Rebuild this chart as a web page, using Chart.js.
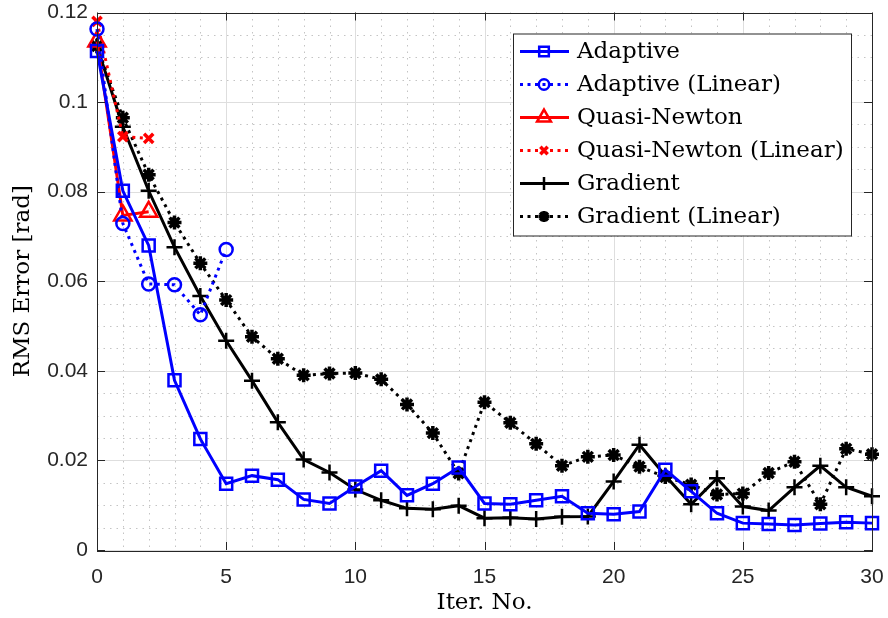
<!DOCTYPE html>
<html>
<head>
<meta charset="utf-8">
<script src="https://cdn.jsdelivr.net/npm/chart.js@4"></script>
<style>
  html, body { margin: 0; padding: 0; background: #fff; }
  #wrap { width: 888px; height: 618px; }
</style>
</head>
<body>
<div id="wrap"><canvas id="chart" width="888" height="618"></canvas></div>
<script>
// iteration numbers
const iters = [0, 1, 2, 3, 4, 5, 6, 7, 8, 9, 10, 11, 12, 13, 14, 15, 16, 17, 18, 19, 20,
               21, 22, 23, 24, 25, 26, 27, 28, 29, 30];

const adaptive = [0.1114, 0.0802, 0.0680, 0.0379, 0.0248, 0.0148, 0.0166, 0.0157, 0.0113, 0.0104,
                  0.0142, 0.0177, 0.0122, 0.0148, 0.0184, 0.0104, 0.0102, 0.0111, 0.0120, 0.0082,
                  0.0080, 0.0086, 0.0179, 0.0131, 0.0082, 0.0060, 0.0058, 0.0056, 0.0059, 0.0062, 0.0060];
const adaptiveLin = [0.1163, 0.0729, 0.0594, 0.0592, 0.0525, 0.0671];
const quasiNewton = [0.1135, 0.0747, 0.0755];
const quasiNewtonLin = [0.1180, 0.0923, 0.0919];
const gradient = [0.1125, 0.0945, 0.0802, 0.0676, 0.0567, 0.0467, 0.0378, 0.0285, 0.0202, 0.0173,
                  0.0135, 0.0111, 0.0093, 0.0091, 0.0099, 0.0071, 0.0072, 0.0069, 0.0074, 0.0075,
                  0.0153, 0.0235, 0.0166, 0.0102, 0.0160, 0.0097, 0.0088, 0.0140, 0.0188, 0.0140, 0.0120];
const gradientLin = [0.1125, 0.0965, 0.0838, 0.0731, 0.0640, 0.0558, 0.0476, 0.0427, 0.0390, 0.0394,
                     0.0395, 0.0381, 0.0325, 0.0261, 0.0171, 0.0330, 0.0284, 0.0237, 0.0188, 0.0208,
                     0.0212, 0.0186, 0.0163, 0.0146, 0.0124, 0.0126, 0.0172, 0.0197, 0.0102, 0.0226, 0.0214];

const xTicks = [0, 5, 10, 15, 20, 25, 30];
const yTicks = [0, 0.02, 0.04, 0.06, 0.08, 0.1, 0.12];

const SERIF = '"DejaVu Serif", serif';
const SANS = '"Liberation Sans", Arial, sans-serif';
const AXIS = '#262626';

function pts(vals) {
    return vals.map((v, i) => ({ x: iters[i], y: v }));
}

function series(label, vals, color, style, radius, dashed, pw) {
    return {
        label: label,
        data: pts(vals),
        borderColor: color,
        backgroundColor: color,
        borderWidth: 3,
        borderDash: dashed ? [3, 4.5] : [],
        borderCapStyle: 'butt',
        pointStyle: style,
        pointRadius: radius,
        pointHoverRadius: radius,
        pointBorderWidth: pw,
        pointBorderColor: color,
        pointBackgroundColor: 'rgba(0,0,0,0)',
        tension: 0,
        fill: false,
        clip: false
    };
}

// grid, box and inward ticks, drawn from the scales
const matlabAxes = {
    id: 'matlabAxes',
    beforeDatasetsDraw(chart) {
        const ctx = chart.ctx, a = chart.chartArea;
        const xs = chart.scales.x, ys = chart.scales.y;
        ctx.save();
        ctx.lineWidth = 1;
        ctx.strokeStyle = '#c4c4c4';
        ctx.setLineDash([1.5, 5]);
        for (let i = xs.min; i <= xs.max; i += 1) {
            if (i % 5 === 0) continue;
            const px = Math.round(xs.getPixelForValue(i)) + 0.5;
            ctx.beginPath(); ctx.moveTo(px, a.top); ctx.lineTo(px, a.bottom); ctx.stroke();
        }
        for (let k = 1; k < 24; k++) {
            if (k % 4 === 0) continue;
            const py = Math.round(ys.getPixelForValue(k * 0.005)) + 0.5;
            ctx.beginPath(); ctx.moveTo(a.left, py); ctx.lineTo(a.right, py); ctx.stroke();
        }
        ctx.setLineDash([]);
        ctx.strokeStyle = '#dedede';
        xTicks.forEach(t => {
            const px = Math.round(xs.getPixelForValue(t)) + 0.5;
            ctx.beginPath(); ctx.moveTo(px, a.top); ctx.lineTo(px, a.bottom); ctx.stroke();
        });
        yTicks.forEach(t => {
            const py = Math.round(ys.getPixelForValue(t)) + 0.5;
            ctx.beginPath(); ctx.moveTo(a.left, py); ctx.lineTo(a.right, py); ctx.stroke();
        });
        ctx.restore();
    },
    afterDatasetsDraw(chart) {
        const ctx = chart.ctx, a = chart.chartArea;
        const xs = chart.scales.x, ys = chart.scales.y;
        ctx.save();
        ctx.strokeStyle = AXIS;
        ctx.lineWidth = 1;
        const L = 8;
        xTicks.forEach(t => {
            const px = Math.round(xs.getPixelForValue(t)) + 0.5;
            ctx.beginPath(); ctx.moveTo(px, a.bottom); ctx.lineTo(px, a.bottom - L); ctx.stroke();
            ctx.beginPath(); ctx.moveTo(px, a.top); ctx.lineTo(px, a.top + L); ctx.stroke();
        });
        yTicks.forEach(t => {
            const py = Math.round(ys.getPixelForValue(t)) + 0.5;
            ctx.beginPath(); ctx.moveTo(a.left, py); ctx.lineTo(a.left + L, py); ctx.stroke();
            ctx.beginPath(); ctx.moveTo(a.right, py); ctx.lineTo(a.right - L, py); ctx.stroke();
        });
        ctx.strokeRect(Math.round(a.left) + 0.5, Math.round(a.top) + 0.5,
                       Math.round(a.right - a.left), Math.round(a.bottom - a.top));
        ctx.restore();
    }
};

// MATLAB-like legend box inside the axes
const boxLegend = {
    id: 'boxLegend',
    afterDraw(chart) {
        const ctx = chart.ctx, a = chart.chartArea;
        const sets = chart.data.datasets;
        const left = a.right - 359, top = a.top + 21, w = 338, rowH = 33;
        const h = sets.length * rowH + 4;
        ctx.save();
        ctx.fillStyle = '#fff';
        ctx.fillRect(left, top, w, h);
        ctx.strokeStyle = AXIS;
        ctx.lineWidth = 1;
        ctx.strokeRect(left + 0.5, top + 0.5, w, h);
        ctx.font = '23px ' + SERIF;
        ctx.textBaseline = 'middle';
        sets.forEach((d, i) => {
            const cy = top + 18 + i * rowH;
            ctx.strokeStyle = d.borderColor;
            ctx.lineWidth = d.borderWidth;
            ctx.setLineDash(d.borderDash);
            ctx.beginPath(); ctx.moveTo(left + 7, cy); ctx.lineTo(left + 56, cy); ctx.stroke();
            ctx.setLineDash([]);
            if (Chart.helpers && Chart.helpers.drawPoint) {
                ctx.lineWidth = d.pointBorderWidth;
                ctx.fillStyle = 'rgba(0,0,0,0)';
                Chart.helpers.drawPoint(ctx, {
                    pointStyle: d.pointStyle, radius: d.pointRadius * 0.8,
                    rotation: 0, borderWidth: d.pointBorderWidth
                }, left + 31, cy);
            }
            ctx.fillStyle = '#000';
            ctx.fillText(d.label, left + 64, cy + 1);
        });
        ctx.restore();
    }
};

new Chart(document.getElementById('chart'), {
    type: 'line',
    data: {
        datasets: [
            series('Adaptive', adaptive, '#0000ff', 'rect', 8.5, false, 2.5),
            series('Adaptive (Linear)', adaptiveLin, '#0000ff', 'circle', 6.5, true, 2.5),
            series('Quasi-Newton', quasiNewton, '#ff0000', 'triangle', 10, false, 2.5),
            series('Quasi-Newton (Linear)', quasiNewtonLin, '#ff0000', 'crossRot', 6.5, true, 3.5),
            series('Gradient', gradient, '#000000', 'cross', 8, false, 2.5),
            series('Gradient (Linear)', gradientLin, '#000000', 'star', 7, true, 3.5)
        ]
    },
    options: {
        responsive: false,
        animation: false,
        events: [],
        layout: { padding: { top: 8, right: 16, left: 0, bottom: 0 } },
        plugins: {
            legend: { display: false },
            tooltip: { enabled: false }
        },
        scales: {
            x: {
                type: 'linear',
                min: 0,
                max: 30,
                afterBuildTicks: s => { s.ticks = xTicks.map(v => ({ value: v })); },
                ticks: {
                    font: { family: SANS, size: 21 },
                    color: AXIS,
                    padding: 15,
                    maxRotation: 0,
                    autoSkip: false
                },
                grid: { display: false, drawTicks: false },
                border: { display: false },
                title: {
                    display: true,
                    text: 'Iter. No.',
                    font: { family: SERIF, size: 23 },
                    color: '#000',
                    padding: { top: 0, bottom: 1 }
                },
                afterFit: s => { s.height = 68; s.paddingLeft = 0; s.paddingRight = 0; }
            },
            y: {
                min: 0,
                max: 0.12,
                afterBuildTicks: s => { s.ticks = yTicks.map(v => ({ value: v })); },
                ticks: {
                    font: { family: SANS, size: 21 },
                    color: AXIS,
                    padding: 9,
                    autoSkip: false,
                    callback: v => String(+v.toFixed(2))
                },
                grid: { display: false, drawTicks: false },
                border: { display: false },
                title: {
                    display: true,
                    text: 'RMS Error [rad]',
                    font: { family: SERIF, size: 23 },
                    color: '#000',
                    padding: { top: 9, bottom: 0 }
                },
                afterFit: s => { s.width = 97; s.paddingTop = 0; s.paddingBottom = 0; }
            }
        }
    },
    plugins: [matlabAxes, boxLegend]
});
</script>
</body>
</html>
